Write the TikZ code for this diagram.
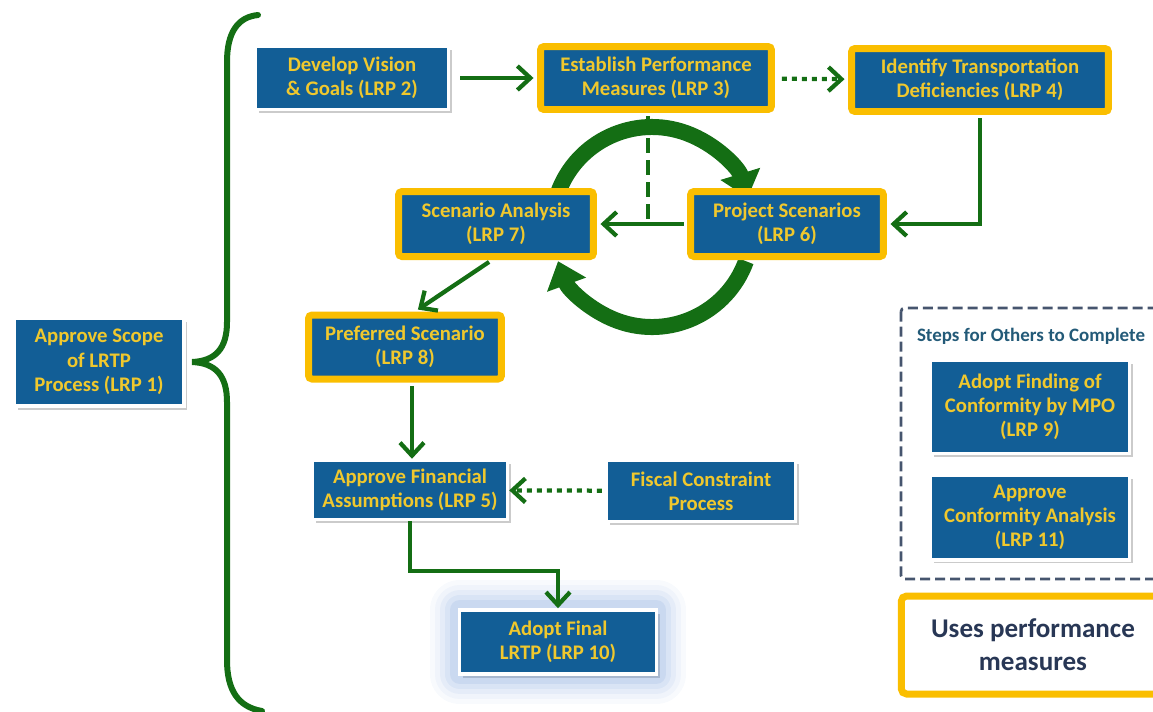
\documentclass[tikz,border=0pt]{standalone}
\usepackage{fontspec}
\setmainfont{Carlito}
\usepackage{tikz}
\usetikzlibrary{arrows.meta, positioning, calc, shadows, backgrounds}
\definecolor{lrpblue}{RGB}{18,94,150}
\definecolor{lrpgold}{RGB}{240,200,45}
\definecolor{goldline}{RGB}{250,190,0}
\definecolor{lrpgreen}{RGB}{20,110,20}
\definecolor{glowblue}{RGB}{110,150,215}
\definecolor{dashgray}{RGB}{70,85,110}
\definecolor{stepteal}{RGB}{35,90,120}
\definecolor{usesnavy}{RGB}{40,55,85}
\tikzset{
  lrpbox/.style={rectangle, fill=lrpblue, text=lrpgold, align=center,
    inner sep=0pt, font=\fontsize{11.8}{13.8}\selectfont\bfseries},
  whitebox/.style={lrpbox, draw=white, line width=2pt,
    drop shadow={shadow xshift=0.07cm, shadow yshift=-0.07cm, fill=black!45, opacity=0.45}},
  goldbox/.style={lrpbox, draw=goldline, line width=0.14cm, rounded corners=2pt,
    drop shadow={shadow xshift=0.05cm, shadow yshift=-0.05cm, fill=black!30, opacity=0.35}},
  glowbox/.style={whitebox,
    preaction={draw=glowblue, draw opacity=0.05, line width=1.2cm, line join=round},
    preaction={draw=glowblue, draw opacity=0.06, line width=1.0cm, line join=round},
    preaction={draw=glowblue, draw opacity=0.08, line width=0.8cm, line join=round},
    preaction={draw=glowblue, draw opacity=0.1, line width=0.6cm, line join=round},
    preaction={draw=glowblue, draw opacity=0.14, line width=0.4cm, line join=round}},
  usesbox/.style={rectangle, draw=goldline, fill=white, line width=0.14cm,
    rounded corners=3pt, text=usesnavy, align=center,
    font=\fontsize{15.4}{18.7}\selectfont\bfseries},
  arrow/.style={-{Straight Barb[length=0.26cm, width=0.48cm]}, line width=0.085cm, color=lrpgreen},
  dotarrow/.style={arrow, dash pattern=on 0.1cm off 0.1cm},
  dashline/.style={line width=0.085cm, color=lrpgreen, dash pattern=on 0.3cm off 0.14cm},
  cyclearrow/.style={line width=0.32cm, color=lrpgreen, -{Triangle[width=0.8cm, length=0.5cm]}},
  dashframe/.style={draw=dashgray, line width=0.055cm, dash pattern=on 0.2cm off 0.1cm, rounded corners=2pt},
  bracepath/.style={line width=0.12cm, color=lrpgreen, line cap=round}
}
\begin{document}
\begin{tikzpicture}[x=0.02cm, y=-0.02cm]
  \useasboundingbox (0,0) rectangle (1153,711);

  % Scope step
  \node[whitebox, minimum width=3.4cm, minimum height=1.76cm] (lrp1) at (99,362) {Approve Scope\\of LRTP\\Process (LRP 1)};

  % Top row
  \node[whitebox, minimum width=3.86cm, minimum height=1.26cm] (lrp2) at (352,78) {Develop Vision\\\& Goals (LRP 2)};
  \node[goldbox, minimum width=4.62cm, minimum height=1.26cm] (lrp3) at (656,78) {Establish Performance\\Measures (LRP 3)};
  \node[goldbox, minimum width=5.14cm, minimum height=1.26cm] (lrp4) at (980,80) {Identify Transportation\\Deficiencies (LRP 4)};

  % Scenario loop
  \node[goldbox, minimum width=3.9cm, minimum height=1.3cm] (lrp7) at (496,224) {Scenario Analysis\\(LRP 7)};
  \node[goldbox, minimum width=3.86cm, minimum height=1.3cm] (lrp6) at (787,224) {Project Scenarios\\(LRP 6)};
  \node[goldbox, minimum width=3.86cm, minimum height=1.28cm] (lrp8) at (405,347) {Preferred Scenario\\(LRP 8)};

  % Finance and adoption
  \node[whitebox, minimum width=3.9cm, minimum height=1.18cm] (lrp5) at (410,490) {Approve Financial\\Assumptions (LRP 5)};
  \node[whitebox, minimum width=3.78cm, minimum height=1.22cm] (fiscal) at (701,491) {Fiscal Constraint\\Process};
  \node[glowbox, minimum width=3.94cm, minimum height=1.28cm] (lrp10) at (558,642) {Adopt Final\\LRTP (LRP 10)};

  % Steps for others
  \draw[dashframe] (901,308) rectangle (1175,579);
  \node[text=stepteal, font=\fontsize{10.8}{13}\selectfont\bfseries] (steps) at (1031,336) {Steps for Others to Complete};
  \node[whitebox, minimum width=3.98cm, minimum height=1.86cm] (lrp9) at (1030,407) {Adopt Finding of\\Conformity by MPO\\(LRP 9)};
  \node[whitebox, minimum width=3.98cm, minimum height=1.7cm, below=0.36cm of lrp9] (lrp11) {Approve\\Conformity Analysis\\(LRP 11)};

  % Legend
  \node[usesbox, minimum width=5.27cm, minimum height=1.96cm] (uses) at (1033,645) {Uses performance\\measures};

  % Brace
  \draw[bracepath] (258,15) .. controls (238,17) and (227,32) .. (227,62) -- (227,322)
    .. controls (227,348) and (216,361) .. (192,362) .. controls (216,363) and (227,376) .. (227,402)
    -- (227,660) .. controls (227,690) and (238,707) .. (262,711);

  % Connectors
  \draw[arrow, shorten <=0.2cm, shorten >=0.07cm] (lrp2) -- (lrp3);
  \draw[dotarrow, shorten <=0.14cm, shorten >=0.07cm] (lrp3) -- (lrp4);
  \draw[arrow, shorten <=0.07cm, shorten >=0.07cm] (lrp4.south) |- (lrp6.east);
  \draw[arrow, shorten <=0.07cm, shorten >=0.07cm] (lrp6) -- (lrp7);
  \draw[dashline, shorten <=0.07cm] ([xshift=-0.16cm]lrp3.south) -- ([xshift=-0.16cm]lrp3.south |- lrp6.west);
  \draw[arrow, shorten <=0.07cm, shorten >=0.07cm] ([xshift=-0.08cm]lrp7.south) -- ([xshift=0.2cm]lrp8.north);
  \draw[arrow, shorten <=0.07cm] ([xshift=0.14cm]lrp8.south) -- ([xshift=0.14cm]lrp8.south |- lrp5.north);
  \draw[dotarrow, shorten <=0.06cm] (fiscal) -- (lrp5);
  \draw[arrow] (lrp5.south) -- ++(0,50) -| (lrp10.north);

  % Cycle between scenarios
  \begin{scope}[on background layer]
    \coordinate (hub) at (652,227);
    \draw[cyclearrow] ([shift={(200:100)}]hub) arc[start angle=200, end angle=343, radius=100];
    \draw[cyclearrow] ([shift={(20:100)}]hub) arc[start angle=20, end angle=160, radius=100];
  \end{scope}
\end{tikzpicture}
\end{document}
